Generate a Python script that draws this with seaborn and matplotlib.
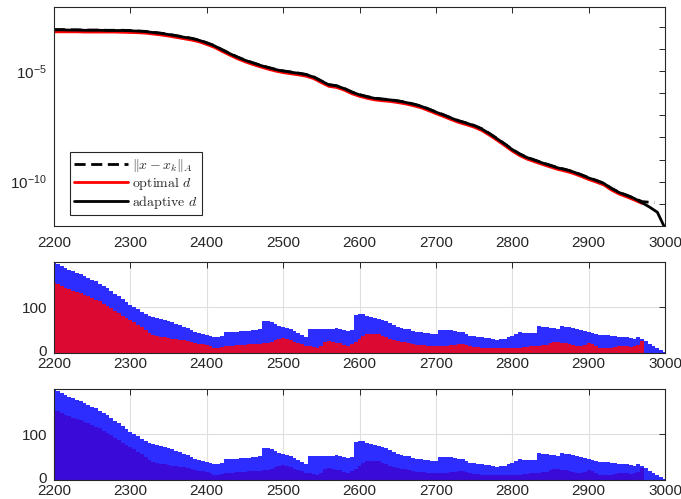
import numpy as np
import matplotlib
matplotlib.use('Agg')
import matplotlib.pyplot as plt
import matplotlib.transforms as mtrans
import seaborn as sns
from matplotlib.ticker import FixedLocator, FuncFormatter, NullLocator


# iteration numbers for the bars (every 5th iteration)
bar_iters = np.arange(2200, 3001, 5)

# total stored vectors per iteration (blue bars)
n_total = [198, 195, 191, 187, 183, 180, 176, 173, 169, 165,
           161, 157, 152, 147, 142, 136, 130, 124, 118, 112,
           106, 101, 96, 90, 85, 81, 79, 77, 75, 72,
           70, 67, 64, 61, 57, 54, 50, 47, 43, 41,
           39, 37, 35, 35, 38, 45, 46, 46, 47, 48,
           48, 49, 50, 51, 53, 71, 70, 67, 63, 60,
           58, 55, 52, 48, 44, 40, 36, 53, 53, 52,
           52, 52, 52, 53, 55, 52, 50, 49, 50, 84,
           86, 85, 82, 80, 77, 75, 73, 71, 66, 62,
           58, 55, 53, 52, 49, 47, 45, 44, 43, 42,
           41, 51, 51, 50, 50, 49, 47, 45, 41, 38,
           37, 36, 35, 33, 32, 31, 29, 30, 31, 34,
           38, 42, 45, 44, 44, 44, 43, 59, 57, 56,
           55, 54, 52, 59, 58, 56, 54, 52, 50, 48,
           46, 44, 41, 39, 40, 39, 38, 37, 36, 35,
           34, 32, 31, 34, 31, 26, 20, 15, 10, 6,
           2]

# optimal delay per iteration (red bars)
n_opt = [154, 151, 147, 143, 140, 137, 134, 131, 128, 124,
         120, 116, 113, 108, 103, 98, 93, 88, 82, 77,
         72, 67, 62, 56, 50, 43, 39, 37, 35, 34,
         32, 31, 30, 29, 28, 27, 25, 23, 20, 19,
         17, 15, 12, 11, 13, 15, 16, 16, 17, 18,
         18, 19, 19, 20, 20, 21, 23, 25, 28, 31,
         32, 31, 28, 25, 22, 19, 16, 15, 13, 12,
         16, 24, 26, 25, 23, 21, 18, 16, 20, 25,
         31, 38, 41, 42, 42, 41, 37, 34, 31, 29,
         27, 25, 24, 22, 20, 18, 17, 17, 16, 16,
         16, 16, 16, 16, 17, 18, 19, 19, 17, 16,
         14, 13, 11, 11, 10, 10, 10, 10, 10, 10,
         10, 11, 12, 13, 14, 15, 15, 16, 17, 18,
         21, 24, 24, 23, 21, 19, 17, 16, 16, 18,
         21, 19, 16, 12, 10, 11, 12, 13, 15, 16,
         15, 14, 15, 17, 26, 0, 0, 0, 0, 0,
         0]

# error curves, log10 values, every 10th iteration
line_iters = np.arange(2200, 3001, 10)
log_adaptive = [-3.15, -3.15, -3.16, -3.16, -3.17, -3.17, -3.17, -3.18, -3.18, -3.18,
                -3.19, -3.21, -3.23, -3.27, -3.31, -3.36, -3.42, -3.48, -3.54, -3.62,
                -3.74, -3.87, -4.05, -4.22, -4.38, -4.52, -4.64, -4.75, -4.85, -4.94,
                -5.01, -5.06, -5.11, -5.17, -5.28, -5.46, -5.63, -5.68, -5.80, -5.96,
                -6.08, -6.17, -6.24, -6.28, -6.31, -6.36, -6.42, -6.50, -6.59, -6.72,
                -6.86, -6.99, -7.13, -7.26, -7.36, -7.47, -7.62, -7.83, -8.06, -8.30,
                -8.55, -8.76, -8.92, -9.04, -9.16, -9.27, -9.38, -9.46, -9.56, -9.69,
                -9.83, -9.95, -10.08, -10.31, -10.49, -10.62, -10.76, -10.95, -11.15, -11.38,
                -12.10]
log_optimal = [-3.24, -3.24, -3.24, -3.24, -3.25, -3.25, -3.25, -3.25, -3.25, -3.26,
               -3.27, -3.28, -3.30, -3.34, -3.38, -3.43, -3.49, -3.55, -3.61, -3.69,
               -3.81, -3.94, -4.12, -4.29, -4.45, -4.59, -4.71, -4.82, -4.92, -5.01,
               -5.08, -5.13, -5.18, -5.24, -5.35, -5.53, -5.70, -5.75, -5.87, -6.03,
               -6.15, -6.24, -6.31, -6.35, -6.38, -6.43, -6.49, -6.57, -6.66, -6.79,
               -6.93, -7.06, -7.20, -7.33, -7.43, -7.54, -7.69, -7.90, -8.13, -8.37,
               -8.62, -8.83, -8.99, -9.11, -9.23, -9.34, -9.45, -9.53, -9.63, -9.76,
               -9.90, -10.02, -10.15, -10.38, -10.56, -10.69, -10.83, -10.98]
err_iters = [2200, 2210, 2220, 2230, 2240, 2250, 2260, 2270, 2280, 2290,
             2300, 2310, 2320, 2330, 2340, 2350, 2360, 2370, 2380, 2390,
             2400, 2410, 2420, 2430, 2440, 2450, 2460, 2470, 2480, 2490,
             2500, 2510, 2520, 2530, 2540, 2550, 2560, 2570, 2580, 2590,
             2600, 2610, 2620, 2630, 2640, 2650, 2660, 2670, 2680, 2690,
             2700, 2710, 2720, 2730, 2740, 2750, 2760, 2770, 2780, 2790,
             2800, 2810, 2820, 2830, 2840, 2850, 2860, 2870, 2880, 2890,
             2900, 2910, 2920, 2930, 2940, 2950, 2960, 2970, 2980, 2986]
log_error = [-3.14, -3.14, -3.15, -3.15, -3.16, -3.16, -3.16, -3.17, -3.17, -3.17,
             -3.18, -3.20, -3.22, -3.26, -3.30, -3.35, -3.41, -3.47, -3.53, -3.61,
             -3.73, -3.86, -4.04, -4.21, -4.37, -4.51, -4.63, -4.74, -4.84, -4.93,
             -5.00, -5.05, -5.10, -5.16, -5.27, -5.45, -5.62, -5.67, -5.79, -5.95,
             -6.07, -6.16, -6.23, -6.27, -6.30, -6.35, -6.41, -6.49, -6.58, -6.71,
             -6.85, -6.98, -7.12, -7.25, -7.35, -7.46, -7.61, -7.82, -8.05, -8.29,
             -8.54, -8.75, -8.91, -9.03, -9.15, -9.26, -9.37, -9.45, -9.55, -9.68,
             -9.82, -9.94, -10.07, -10.30, -10.48, -10.61, -10.75, -10.90, -10.93, -10.95]

legend_labels = [r'$\|x-x_k\|_A$', r'$\mathrm{optimal}\ d$', r'$\mathrm{adaptive}\ d$']

blue = '#2d2dff'
red = '#dc0a32'
dark = '#3a0ad8'
axcol = '#262626'

sns.set_style('white')
plt.rcParams['font.family'] = ['Liberation Sans', 'DejaVu Sans']
plt.rcParams['mathtext.fontset'] = 'cm'
plt.rcParams['axes.edgecolor'] = axcol
plt.rcParams['axes.linewidth'] = 0.8

fig = plt.figure(figsize=(6.81, 4.99), dpi=100)
W, H = 681, 499
ax1 = fig.add_axes([54 / W, 1 - 226 / H, 611 / W, 219 / H])
ax2 = fig.add_axes([54 / W, 1 - 353 / H, 611 / W, 91 / H])
ax3 = fig.add_axes([54 / W, 1 - 480 / H, 611 / W, 91 / H])

# top panel: error curves
sns.lineplot(x=err_iters, y=10.0 ** np.array(log_error), ax=ax1, color='k',
             lw=2, linestyle='--', label=legend_labels[0])
sns.lineplot(x=line_iters[:len(log_optimal)], y=10.0 ** np.array(log_optimal), ax=ax1,
             color='red', lw=2, label=legend_labels[1])
sns.lineplot(x=line_iters, y=10.0 ** np.array(log_adaptive), ax=ax1, color='k',
             lw=2, label=legend_labels[2])
ax1.lines[0].set_dashes([4, 2])
ax1.set_yscale('log')
ax1.set_ylim(1e-12, 7.6e-3)
ax1.yaxis.set_major_locator(FixedLocator(10.0 ** np.arange(-12, -2)))
ax1.yaxis.set_minor_locator(NullLocator())
ax1.yaxis.set_major_formatter(FuncFormatter(
    lambda v, p: r'$\mathregular{10^{%d}}$' % round(np.log10(v))
    if round(np.log10(v)) in (-5, -10) else ''))
leg = ax1.legend(loc='lower left', bbox_to_anchor=(16 / 611, 11 / 219),
                 borderaxespad=0, fontsize=10, handlelength=3.9, handletextpad=0.3,
                 labelspacing=0.12, borderpad=0.3, fancybox=False,
                 edgecolor=axcol, framealpha=1)
leg.get_frame().set_linewidth(0.8)

# bar panels
for ax, over in [(ax2, red), (ax3, dark)]:
    sns.barplot(x=bar_iters, y=n_total, ax=ax, native_scale=True, color=blue,
                saturation=1, width=1, linewidth=0, errorbar=None)
    sns.barplot(x=bar_iters, y=n_opt, ax=ax, native_scale=True, color=over,
                saturation=1, width=1, linewidth=0, errorbar=None)
    ax.set_ylim(0, 199.5)
    ax.set_yticks([0, 100])
    ax.grid(True, color='#dfdfdf', lw=0.8)
    ax.set_axisbelow(True)

for ax in (ax1, ax2, ax3):
    ax.set_xlim(2200, 3000)
    ax.set_xticks(np.arange(2200, 3001, 100))
    ax.set_xlabel('')
    ax.set_ylabel('')
    ax.tick_params(direction='in', top=True, right=True, length=4, width=0.7,
                   labelsize=11, labelcolor=axcol, color=axcol, pad=3)
    for s in ax.spines.values():
        s.set_visible(True)
        s.set_color(axcol)
ax1.tick_params(axis='x', pad=7)
ax1.tick_params(axis='y', pad=5)
ax2.tick_params(axis='y', pad=5)
ax3.tick_params(axis='y', pad=5)

# nudge the "0" labels up a little, as in the original
fig.canvas.draw()
shift = mtrans.ScaledTranslation(0, 2 / 72, fig.dpi_scale_trans)
for ax in (ax2, ax3):
    lab = ax.get_yticklabels()[0]
    lab.set_transform(lab.get_transform() + shift)

fig.savefig('out.png', dpi=100)
